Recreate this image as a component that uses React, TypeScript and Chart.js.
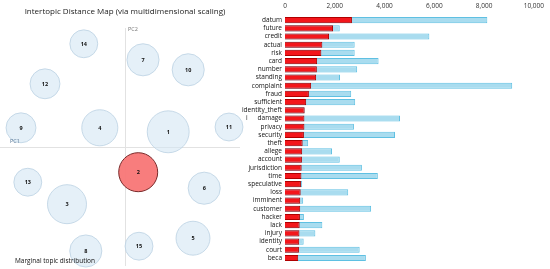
import React, { useEffect, useRef } from "react";
import Chart from "chart.js/auto";

// ---- Intertopic distance map data ----
const topics = ["1", "2", "3", "4", "5", "6", "7", "8", "9", "10", "11", "12", "13", "14", "15"];
const pc1 = [0.108, 0.033, -0.145, -0.063, 0.17, 0.198, 0.045, -0.098, -0.26, 0.158, 0.26, -0.2, -0.243, -0.103, 0.035];
const pc2 = [0.038, -0.063, -0.143, 0.048, -0.228, -0.103, 0.218, -0.26, 0.048, 0.193, 0.05, 0.158, -0.088, 0.258, -0.248];
const marginal = [10.4, 9.0, 9.0, 7.7, 6.8, 6.1, 6.1, 6.1, 5.3, 6.1, 4.6, 5.3, 4.6, 4.6, 4.6];
const selectedTopic = "2";

// ---- Top terms bar data ----
const terms = [
  "datum", "future", "credit", "actual", "risk", "card", "number", "standing", "complaint", "fraud",
  "sufficient", "identity_theft", "damage", "privacy", "security", "theft", "allege", "account", "jurisdiction", "time",
  "speculative", "loss", "imminent", "customer", "hacker", "lack", "injury", "identity", "court", "beca",
];
const topicFreq = [
  2690, 1930, 1770, 1500, 1460, 1290, 1280, 1250, 1050, 960,
  850, 790, 780, 780, 760, 710, 690, 680, 670, 660,
  640, 630, 610, 610, 600, 590, 580, 570, 560, 530,
];
const totalFreq = [
  8130, 2200, 5800, 2800, 2800, 3760, 2900, 2210, 9130, 2660,
  2820, 790, 4620, 2770, 4420, 930, 1890, 2200, 3090, 3730,
  690, 2540, 730, 3460, 760, 1500, 1220, 750, 3000, 3250,
];
const xTicks = [0, 2000, 4000, 6000, 8000, 10000];

const FONT = "'Open Sans', 'DejaVu Sans', sans-serif";

export default function App() {
  const leftRef = useRef<HTMLCanvasElement>(null);
  const rightRef = useRef<HTMLCanvasElement>(null);

  useEffect(() => {
    const overlay = {
      id: "ldaOverlay",
      beforeDatasetsDraw(chart: any) {
        const { ctx, scales } = chart;
        const x0 = scales.x.getPixelForValue(0);
        const y0 = scales.y.getPixelForValue(0);
        ctx.save();
        ctx.strokeStyle = "#e2e2e2";
        ctx.lineWidth = 1;
        ctx.beginPath();
        ctx.moveTo(Math.round(x0) + 0.5, 28);
        ctx.lineTo(Math.round(x0) + 0.5, 266);
        ctx.moveTo(0, Math.round(y0) + 0.5);
        ctx.lineTo(240, Math.round(y0) + 0.5);
        ctx.stroke();
        ctx.restore();
      },
      afterDatasetsDraw(chart: any) {
        const { ctx, scales } = chart;
        const x0 = scales.x.getPixelForValue(0);
        const y0 = scales.y.getPixelForValue(0);
        ctx.save();
        ctx.textAlign = "center";
        ctx.textBaseline = "middle";
        ctx.fillStyle = "#222";
        ctx.font = `8px ${FONT}`;
        ctx.fillText("Intertopic Distance Map (via multidimensional scaling)", 125, 12);
        ctx.textAlign = "left";
        ctx.font = `5.5px ${FONT}`;
        ctx.fillStyle = "#777";
        ctx.fillText("PC2", x0 + 3, 29);
        ctx.fillStyle = "#5b7a99";
        ctx.fillText("PC1", 10, y0 - 6);
        ctx.fillStyle = "#111";
        ctx.font = `6.5px ${FONT}`;
        ctx.fillText("Marginal topic distribution", 15, 261);
        const meta = chart.getDatasetMeta(0);
        ctx.textAlign = "center";
        ctx.font = `bold 5.5px ${FONT}`;
        ctx.fillStyle = "#111";
        meta.data.forEach((el: any, i: number) => {
          ctx.fillText(topics[i], el.x, el.y + 0.5);
        });
        ctx.restore();
      },
    };

    const left = new Chart(leftRef.current!, {
      type: "bubble",
      data: {
        datasets: [
          {
            data: topics.map((t, i) => ({ x: pc1[i], y: pc2[i], r: 6.5 * Math.sqrt(marginal[i]) })),
            backgroundColor: topics.map((t) => (t === selectedTopic ? "rgba(248,118,118,0.95)" : "rgba(212,230,243,0.6)")),
            borderColor: topics.map((t) => (t === selectedTopic ? "#7a2a2a" : "rgba(190,212,228,0.85)")),
            borderWidth: 1,
            clip: false as any,
          },
        ],
      },
      options: {
        animation: false,
        responsive: false,
        maintainAspectRatio: false,
        layout: { padding: 0, autoPadding: false } as any,
        plugins: { legend: { display: false }, tooltip: { enabled: false }, title: { display: false } },
        scales: {
          x: { display: false, min: -0.3125, max: 0.3 },
          y: { display: false, min: -0.305, max: 0.3675 },
        },
      },
      plugins: [overlay],
    });

    const labelPlugin = {
      id: "strayLabel",
      afterDraw(chart: any) {
        const { ctx, scales } = chart;
        ctx.save();
        ctx.font = `6.5px ${FONT}`;
        ctx.fillStyle = "#222";
        ctx.textAlign = "left";
        ctx.textBaseline = "middle";
        ctx.fillText("i", 6, scales.y.getPixelForValue(12));
        ctx.restore();
      },
    };

    const right = new Chart(rightRef.current!, {
      type: "bar",
      data: {
        labels: terms,
        datasets: [
          {
            label: "Estimated term frequency within the selected topic",
            data: topicFreq,
            backgroundColor: "#f3161b",
            borderColor: "#b00000",
            borderWidth: 1,
            grouped: false,
            barPercentage: 0.75,
            categoryPercentage: 1,
          } as any,
          {
            label: "Overall term frequency",
            data: totalFreq,
            backgroundColor: "#a9dcef",
            borderColor: "#5fc0e2",
            borderWidth: 1,
            grouped: false,
            barPercentage: 0.75,
            categoryPercentage: 1,
          } as any,
        ],
      },
      options: {
        indexAxis: "y",
        animation: false,
        responsive: false,
        maintainAspectRatio: false,
        layout: { padding: { right: 12, bottom: 4, top: 0, left: 0 } },
        plugins: { legend: { display: false }, tooltip: { enabled: false } },
        scales: {
          x: {
            position: "top",
            min: 0,
            max: 10000,
            afterBuildTicks: (scale: any) => {
              scale.ticks = xTicks.map((v) => ({ value: v }));
            },
            afterFit: (scale: any) => {
              scale.height = 16;
            },
            grid: { display: false, drawTicks: false },
            border: { display: false },
            ticks: { font: { size: 6.5, family: FONT }, color: "#333", padding: 6, maxRotation: 0 },
          },
          y: {
            afterFit: (scale: any) => {
              scale.width = 45;
            },
            grid: { display: false, drawTicks: false },
            border: { display: false },
            ticks: { autoSkip: false, font: { size: 6.5, family: FONT }, color: "#111", padding: 3 },
          },
        },
      },
      plugins: [labelPlugin],
    });

    return () => {
      left.destroy();
      right.destroy();
    };
  }, []);

  return (
    <div style={{ position: "absolute", left: 0, top: 0, width: 550, height: 269, background: "#fff" }}>
      <canvas ref={leftRef} width={245} height={269} style={{ position: "absolute", left: 0, top: 0 }} />
      <canvas ref={rightRef} width={310} height={269} style={{ position: "absolute", left: 240, top: 0 }} />
    </div>
  );
}
